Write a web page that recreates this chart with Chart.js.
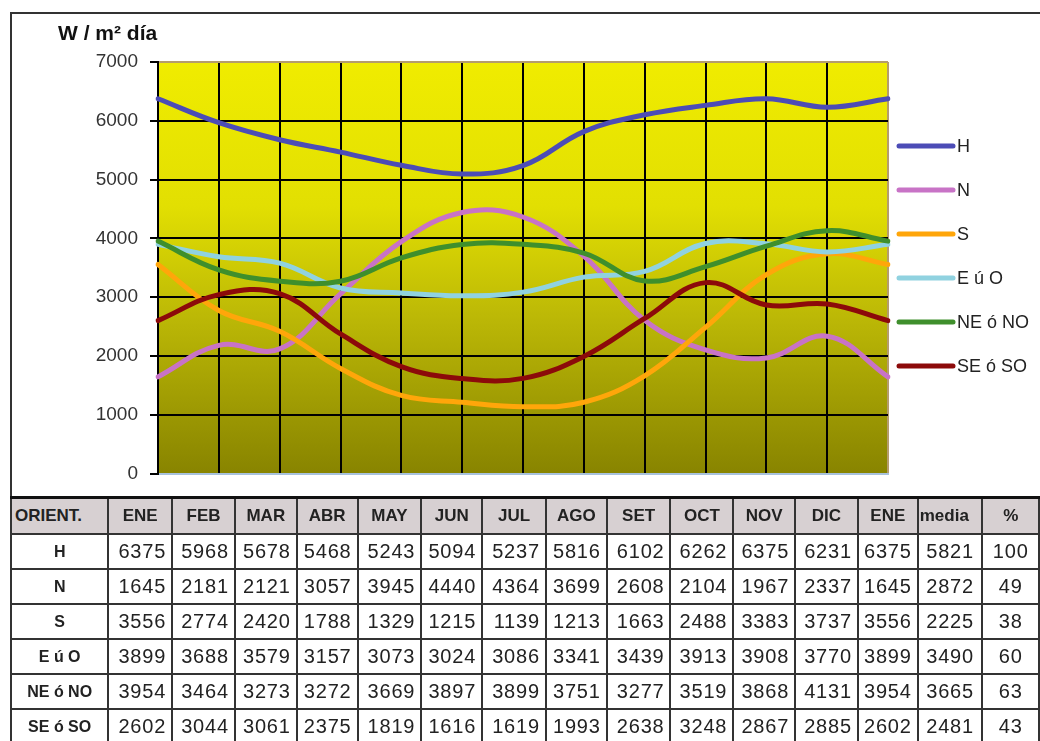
<!DOCTYPE html>
<html>
<head>
<meta charset="utf-8">
<script src="https://cdn.jsdelivr.net/npm/chart.js@4.4.1/dist/chart.umd.min.js"></script>
<style>
  html, body { margin: 0; padding: 0; background: #fff; }
  body { width: 1040px; height: 741px; position: relative; overflow: hidden; font-family: "Liberation Sans", Arial, sans-serif; }
  #frame { position: absolute; left: 10px; top: 12px; width: 1040px; height: 486px; border-top: 2px solid #333; border-left: 2px solid #333; }
  #chart { position: absolute; left: 12px; top: 14px; }
  #tbl { position: absolute; left: 10px; top: 496px; border-collapse: collapse; table-layout: fixed; color: #222; }
  #tbl td, #tbl th { border: 2px solid #333; padding: 0; overflow: hidden; white-space: nowrap; }
  #tbl tr:first-child th { border-top: 3px solid #111; }
  #tbl th { background: #d7d0d2; font-weight: bold; font-size: 17px; height: 34px; text-align: center; }
  #tbl th.lab { text-align: left; padding-left: 3px; }
  #tbl th.med { text-align: left; padding-left: 1px; }
  #tbl td { height: 33px; font-size: 20px; letter-spacing: 0.8px; text-align: right; padding-right: 5px; }
  #tbl td.rl { font-weight: bold; font-size: 16px; letter-spacing: 0; text-align: center; padding-right: 0; }
  #tbl td.pc { text-align: center; padding-right: 0; }
  #tbl td.md { text-align: center; padding-right: 0; }
</style>
</head>
<body>
<div id="frame"></div>
<canvas id="chart" width="1028" height="483"></canvas>
<table id="tbl"></table>
<script>
// Monthly irradiation by orientation, W / m² día
const months = ['ENE', 'FEB', 'MAR', 'ABR', 'MAY', 'JUN', 'JUL', 'AGO', 'SET', 'OCT', 'NOV', 'DIC', 'ENE'];
const orientations = ['H', 'N', 'S', 'E ú O', 'NE ó NO', 'SE ó SO'];
const valH    = [6375, 5968, 5678, 5468, 5243, 5094, 5237, 5816, 6102, 6262, 6375, 6231, 6375];
const valN    = [1645, 2181, 2121, 3057, 3945, 4440, 4364, 3699, 2608, 2104, 1967, 2337, 1645];
const valS    = [3556, 2774, 2420, 1788, 1329, 1215, 1139, 1213, 1663, 2488, 3383, 3737, 3556];
const valEO   = [3899, 3688, 3579, 3157, 3073, 3024, 3086, 3341, 3439, 3913, 3908, 3770, 3899];
const valNENO = [3954, 3464, 3273, 3272, 3669, 3897, 3899, 3751, 3277, 3519, 3868, 4131, 3954];
const valSESO = [2602, 3044, 3061, 2375, 1819, 1616, 1619, 1993, 2638, 3248, 2867, 2885, 2602];
const media   = [5821, 2872, 2225, 3490, 3665, 2481];
const percent = [100, 49, 38, 60, 63, 43];
const yTicks  = [0, 1000, 2000, 3000, 4000, 5000, 6000, 7000];
const yTitle  = 'W / m² día';

const seriesValues = [valH, valN, valS, valEO, valNENO, valSESO];
const seriesColors = ['#4c4cb6', '#c873c6', '#ffa60a', '#90d2e0', '#3f8f2c', '#8c0a0a'];

// ---- data table below the chart ----
const colWidths = [98, 64, 63, 62, 61, 64, 61, 64, 61, 64, 63, 62, 63, 60, 65, 57];
const tbl = document.getElementById('tbl');
const cg = document.createElement('colgroup');
colWidths.forEach(w => { const c = document.createElement('col'); c.style.width = w + 'px'; cg.appendChild(c); });
tbl.appendChild(cg);
let html = '<tr><th class="lab">ORIENT.</th>' + months.map(m => '<th>' + m + '</th>').join('') +
           '<th class="med">media</th><th>%</th></tr>';
orientations.forEach((o, i) => {
  html += '<tr><td class="rl">' + o + '</td>' +
          seriesValues[i].map(v => '<td>' + v + '</td>').join('') +
          '<td class="md">' + media[i] + '</td><td class="pc">' + percent[i] + '</td></tr>';
});
tbl.insertAdjacentHTML('beforeend', html);

// ---- chart ----
const plotBackground = {
  id: 'plotBackground',
  beforeDraw(chart) {
    const { ctx, chartArea: a } = chart;
    const g = ctx.createLinearGradient(0, a.top, 0, a.bottom);
    g.addColorStop(0, '#f0ec00');
    g.addColorStop(0.35, '#e2df02');
    g.addColorStop(0.62, '#bcb806');
    g.addColorStop(1, '#888400');
    ctx.save();
    ctx.fillStyle = g;
    ctx.fillRect(a.left, a.top, a.right - a.left, a.bottom - a.top);
    ctx.restore();
  }
};

const sideLegend = {
  id: 'sideLegend',
  afterDraw(chart) {
    const { ctx } = chart;
    ctx.save();
    // axis caption
    ctx.font = 'bold 21px "Liberation Sans", Arial, sans-serif';
    ctx.fillStyle = '#111';
    ctx.textBaseline = 'alphabetic';
    ctx.textAlign = 'left';
    ctx.fillText(yTitle, 46, 26);
    // legend entries
    ctx.font = '18px "Liberation Sans", Arial, sans-serif';
    ctx.textBaseline = 'middle';
    chart.data.datasets.forEach((ds, i) => {
      const y = 132 + i * 44;
      ctx.strokeStyle = ds.borderColor;
      ctx.lineWidth = 5;
      ctx.lineCap = 'round';
      ctx.beginPath();
      ctx.moveTo(887, y);
      ctx.lineTo(941, y);
      ctx.stroke();
      ctx.fillStyle = '#222';
      ctx.fillText(ds.label, 945, y + 1);
    });
    ctx.restore();
  }
};

new Chart(document.getElementById('chart'), {
  type: 'line',
  data: {
    labels: months,
    datasets: orientations.map((o, i) => ({
      label: o,
      data: seriesValues[i],
      borderColor: seriesColors[i],
      backgroundColor: seriesColors[i],
      borderWidth: 5,
      borderCapStyle: 'round',
      pointRadius: 0,
      tension: 0.4,
      fill: false,
      order: orientations.length - i
    }))
  },
  options: {
    responsive: false,
    devicePixelRatio: 1,
    animation: false,
    layout: { padding: { top: 48, right: 152, bottom: 0, left: 0 } },
    plugins: { legend: { display: false }, tooltip: { enabled: false } },
    scales: {
      x: {
        type: 'category',
        offset: false,
        ticks: { display: false },
        grid: {
          drawTicks: false,
          lineWidth: 2,
          color: c => (c.index === months.length - 1 ? '#b49c6c' : '#000')
        },
        border: { display: true, color: '#a8c2dc', width: 2 },
        afterFit: s => { s.height = 15; }
      },
      y: {
        min: 0,
        max: 7000,
        afterBuildTicks: s => { s.ticks = yTicks.map(v => ({ value: v })); },
        ticks: {
          padding: 12,
          color: '#333',
          font: { family: '"Liberation Sans", Arial, sans-serif', size: 19 },
          callback: v => String(v)
        },
        grid: {
          lineWidth: 2,
          tickLength: 8,
          tickColor: '#000',
          color: c => (c.tick && c.tick.value === 7000 ? '#b49c6c' : '#000')
        },
        border: { display: true, color: '#000', width: 2 },
        afterFit: s => { s.width = 146; }
      }
    }
  },
  plugins: [plotBackground, sideLegend]
});
</script>
</body>
</html>
